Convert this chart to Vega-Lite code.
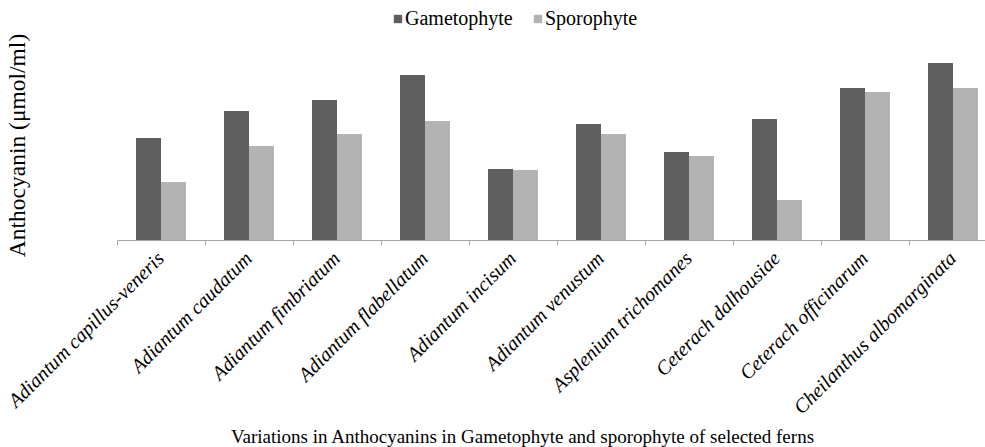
{
  "$schema": "https://vega.github.io/schema/vega-lite/v6.json",
  "autosize": "none",
  "padding": {"left": 117, "top": 30, "right": 0, "bottom": 207},
  "width": 880,
  "height": 210,
  "background": "white",
  "config": {"view": {"stroke": null}, "font": "Liberation Serif"},
  "data": {"values": [
    {"fern": "Adiantum capillus-veneris", "stage": "Gametophyte", "value": 1.02},
    {"fern": "Adiantum capillus-veneris", "stage": "Sporophyte", "value": 0.58},
    {"fern": "Adiantum caudatum", "stage": "Gametophyte", "value": 1.29},
    {"fern": "Adiantum caudatum", "stage": "Sporophyte", "value": 0.94},
    {"fern": "Adiantum fimbriatum", "stage": "Gametophyte", "value": 1.40},
    {"fern": "Adiantum fimbriatum", "stage": "Sporophyte", "value": 1.06},
    {"fern": "Adiantum flabellatum", "stage": "Gametophyte", "value": 1.65},
    {"fern": "Adiantum flabellatum", "stage": "Sporophyte", "value": 1.19},
    {"fern": "Adiantum incisum", "stage": "Gametophyte", "value": 0.71},
    {"fern": "Adiantum incisum", "stage": "Sporophyte", "value": 0.70},
    {"fern": "Adiantum venustum", "stage": "Gametophyte", "value": 1.16},
    {"fern": "Adiantum venustum", "stage": "Sporophyte", "value": 1.06},
    {"fern": "Asplenium trichomanes", "stage": "Gametophyte", "value": 0.88},
    {"fern": "Asplenium trichomanes", "stage": "Sporophyte", "value": 0.84},
    {"fern": "Ceterach dalhousiae", "stage": "Gametophyte", "value": 1.21},
    {"fern": "Ceterach dalhousiae", "stage": "Sporophyte", "value": 0.40},
    {"fern": "Ceterach officinarum", "stage": "Gametophyte", "value": 1.52},
    {"fern": "Ceterach officinarum", "stage": "Sporophyte", "value": 1.48},
    {"fern": "Cheilanthus albomarginata", "stage": "Gametophyte", "value": 1.77},
    {"fern": "Cheilanthus albomarginata", "stage": "Sporophyte", "value": 1.52}
  ]},
  "mark": {"type": "bar"},
  "encoding": {
    "x": {
      "field": "fern", "type": "nominal", "sort": null,
      "scale": {"paddingInner": 0, "paddingOuter": 0},
      "axis": {
        "title": "Variations in Anthocyanins in Gametophyte and sporophyte of selected ferns",
        "titleFont": "Liberation Serif", "titleFontSize": 19, "titleFontWeight": "normal", "titleColor": "#000000",
        "titleX": 405, "titleY": 202, "titleBaseline": "alphabetic", "titleAnchor": "middle", "titleAlign": "center",
        "bandPosition": 0,
        "domainColor": "#a6a6a6", "tickColor": "#a6a6a6", "tickSize": 5,
        "labelAngle": -45, "labelFont": "Liberation Serif", "labelFontStyle": "italic", "labelFontSize": 20,
        "labelColor": "#000000", "labelPadding": 10, "labelAlign": "right", "labelBaseline": "middle",
        "labelBound": false, "labelOverlap": false, "labelLimit": 0,
        "grid": false
      }
    },
    "xOffset": {"field": "stage", "type": "nominal", "scale": {"paddingInner": 0, "paddingOuter": 0.76}},
    "y": {
      "field": "value", "type": "quantitative",
      "scale": {"domain": [0, 2.1], "nice": false},
      "axis": {
        "title": "Anthocyanin (μmol/ml)", "titleFont": "Liberation Serif", "titleFontSize": 23.5,
        "titleFontWeight": "normal", "titleColor": "#000000",
        "titleX": -88, "titleY": 115, "titleAngle": -90, "titleAlign": "center", "titleBaseline": "bottom",
        "labels": false, "ticks": false, "domain": false, "grid": false
      }
    },
    "color": {
      "field": "stage", "type": "nominal",
      "scale": {"domain": ["Gametophyte", "Sporophyte"], "range": ["#5f5f5f", "#b3b3b3"]},
      "legend": {
        "title": null, "orient": "none", "direction": "horizontal",
        "legendX": 271, "legendY": -21,
        "symbolType": "square", "symbolSize": 70, "symbolStrokeWidth": 0,
        "labelFont": "Liberation Serif", "labelFontSize": 20, "labelColor": "#000000",
        "columnPadding": 15, "labelOffset": -3
      }
    }
  }
}
